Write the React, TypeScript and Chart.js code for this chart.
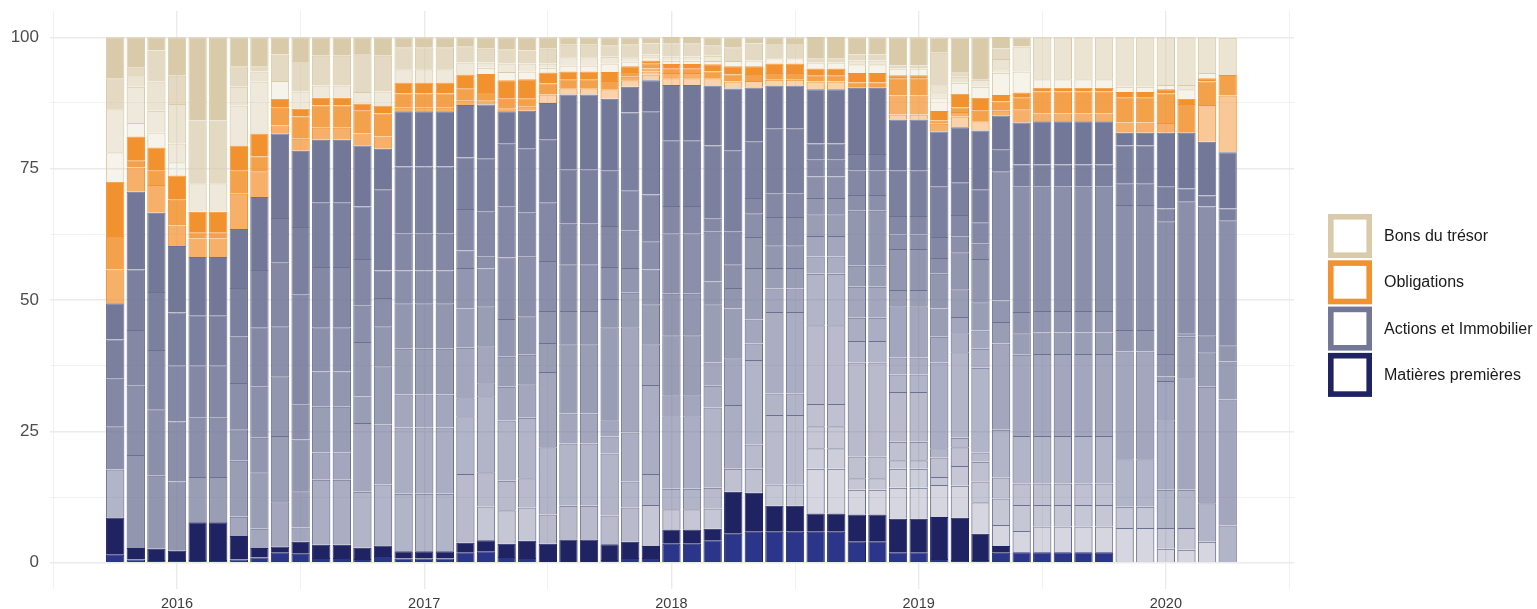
import React, { useEffect, useRef } from 'react';
import { Chart, registerables } from 'chart.js';

Chart.register(...registerables);

// ---------- DATA ----------
const months = [
  '2015-10', '2015-11', '2015-12',
  '2016-01', '2016-02', '2016-03', '2016-04', '2016-05', '2016-06', '2016-07', '2016-08', '2016-09', '2016-10', '2016-11', '2016-12',
  '2017-01', '2017-02', '2017-03', '2017-04', '2017-05', '2017-06', '2017-07', '2017-08', '2017-09', '2017-10', '2017-11', '2017-12',
  '2018-01', '2018-02', '2018-03', '2018-04', '2018-05', '2018-06', '2018-07', '2018-08', '2018-09', '2018-10', '2018-11', '2018-12',
  '2019-01', '2019-02', '2019-03', '2019-04', '2019-05', '2019-06', '2019-07', '2019-08', '2019-09', '2019-10', '2019-11', '2019-12',
  '2020-01', '2020-02', '2020-03', '2020-04',
];

const categories = ['Bons du trésor', 'Obligations', 'Actions et Immobilier', 'Matières premières'];
const yTickValues = [0, 12.5, 25, 37.5, 50, 62.5, 75, 87.5, 100];
const yearTickValues = [-6, 0, 6, 12, 18, 24, 30, 36, 42, 48, 54];

// Matières premières: 2 assets per month (%)
const matieres = [
  [1.5, 7.1], [0.6, 2.2], [0.5, 2.15],
  [0.5, 1.8], [0.5, 7.2], [0.5, 7.2], [0.6, 4.5], [1.0, 1.8], [2.0, 1.1], [1.7, 2.3], [0.9, 2.5], [0.9, 2.5], [0.7, 2.15], [1.3, 2.0], [0.8, 1.4],
  [0.8, 1.4], [0.8, 1.4], [2.0, 1.8], [2.2, 2.1], [1.1, 2.5], [0.9, 3.3], [0, 3.6], [0, 4.4], [0, 4.4], [0.5, 3.0], [0.9, 3.1], [0.9, 2.3],
  [3.6, 2.7], [3.6, 2.7], [4.3, 2.15], [5.5, 8.0], [5.9, 7.4], [5.9, 4.95], [5.9, 4.95], [5.9, 3.45], [5.9, 3.45], [4.1, 5.1], [4.1, 5.1], [2.0, 6.35],
  [2.0, 6.35], [0.7, 8.0], [0.5, 8.05], [0.5, 5.0], [1.9, 1.3], [2.0, 0], [2.0, 0], [2.0, 0], [2.0, 0], [2.0, 0], [0, 0], [0, 0],
  [0, 0], [0, 0], [0, 0], [0, 0],
];

// Actions et Immobilier: 14 assets per month, bottom to top (%)
const actions = [
  [0, 0, 0, 0, 0, 9.15, 0, 0, 0, 0, 8.2, 9.05, 7.5, 6.9],
  [0, 0, 0, 0, 0, 0, 0, 0, 0, 17.7, 13.2, 10.6, 11.5, 14.8],
  [0, 0, 0, 0, 0, 0, 0, 0, 0, 13.9, 12.65, 11.3, 11.0, 15.1],
  [0, 0, 0, 0, 0, 0, 0, 0, 0, 13.15, 11.45, 10.7, 10.0, 12.7],
  [0, 0, 0, 0, 0, 0, 0, 0, 8.6, 0, 11.3, 10.0, 9.5, 11.1],
  [0, 0, 0, 0, 0, 0, 0, 0, 8.6, 0, 11.3, 10.0, 9.5, 11.1],
  [0, 0, 0, 0, 0, 0, 0, 3.65, 10.65, 6.0, 8.8, 8.8, 9.3, 11.2],
  [0, 0, 0, 0, 0, 0, 0, 3.66, 10.74, 6.6, 9.7, 11.3, 10.9, 13.9],
  [0, 0, 0, 0, 0, 0, 0, 8.4, 12.6, 11.4, 9.5, 12.1, 8.5, 16.1],
  [0, 0, 0, 0, 0, 0, 0, 2.7, 6.9, 9.85, 6.63, 20.92, 12.9, 14.5],
  [0, 0, 0, 0, 0, 0, 12.4, 5.2, 8.7, 6.7, 8.4, 11.5, 12.2, 12.0],
  [0, 0, 0, 0, 0, 0, 12.4, 5.2, 8.7, 6.7, 8.4, 11.5, 12.2, 12.0],
  [0, 0, 0, 0, 0, 10.65, 0, 13.1, 5.05, 10.35, 6.9, 8.9, 10.0, 11.6],
  [0, 0, 0, 0, 0, 11.6, 0, 11.4, 11.1, 7.6, 5.4, 5.2, 15.5, 7.7],
  [0, 0, 0, 0, 0, 10.95, 12.6, 6.25, 8.7, 8.7, 6.2, 7.0, 12.8, 10.5],
  [0, 0, 0, 0, 0, 10.95, 12.6, 6.25, 8.7, 8.7, 6.2, 7.0, 12.8, 10.5],
  [0, 0, 0, 0, 0, 10.95, 12.6, 6.25, 8.7, 8.7, 6.2, 7.0, 12.8, 10.5],
  [0, 0, 0, 0, 13.1, 11.0, 3.4, 9.6, 7.5, 7.7, 3.3, 7.9, 9.8, 10.0],
  [0, 0, 6.4, 0, 6.5, 14.5, 2.45, 7.05, 7.6, 7.2, 2.25, 8.55, 10.2, 10.2],
  [0, 0, 6.4, 0, 5.6, 11.45, 0, 6.45, 5.7, 7.2, 11.7, 9.65, 12.0, 6.15],
  [0, 0, 6.3, 0, 5.6, 11.5, 0, 6.35, 5.65, 7.3, 11.35, 8.35, 12.2, 7.2],
  [0, 0, 0, 0, 5.6, 12.8, 0, 14.3, 5.5, 6.1, 9.5, 11.2, 11.9, 7.0],
  [0, 0, 0, 0, 6.45, 11.85, 0, 5.7, 13.2, 6.3, 8.9, 7.7, 10.3, 14.3],
  [0, 0, 0, 0, 6.45, 11.85, 0, 5.7, 13.2, 6.3, 8.9, 7.7, 10.3, 14.3],
  [0, 0, 0, 0, 5.5, 11.8, 3.2, 3.1, 17.7, 5.4, 6.1, 7.8, 10.5, 13.7],
  [0, 0, 0, 0, 6.5, 4.95, 9.35, 20.0, 6.6, 4.7, 7.1, 7.7, 14.8, 4.9],
  [0, 0, 7.8, 0, 0, 5.9, 16.9, 7.8, 7.6, 6.6, 5.4, 8.9, 15.8, 5.9],
  [0, 0, 3.9, 0, 0, 3.9, 13.8, 3.95, 11.45, 7.9, 11.5, 5.2, 12.5, 10.5],
  [0, 0, 3.9, 0, 0, 3.9, 13.8, 3.95, 11.45, 7.9, 11.5, 5.2, 12.5, 10.5],
  [0, 0, 3.85, 0, 3.97, 15.28, 4.15, 4.4, 11.1, 4.3, 9.5, 2.45, 13.95, 11.4],
  [0, 0, 0, 4.4, 0, 0, 12.1, 8.9, 9.5, 3.9, 4.5, 6.2, 15.4, 11.85],
  [0, 0, 0, 4.6, 4.6, 16.1, 3.1, 4.6, 9.8, 5.9, 4.5, 2.9, 10.7, 10.35],
  [0, 0, 4.05, 0, 13.2, 4.1, 15.5, 4.5, 3.9, 4.3, 5.4, 4.4, 12.4, 8.2],
  [0, 0, 4.05, 0, 13.2, 4.1, 15.5, 4.5, 3.9, 4.3, 5.4, 4.4, 12.4, 8.2],
  [8.55, 3.9, 4.15, 4.25, 15.0, 9.8, 3.3, 3.9, 4.1, 3.1, 4.1, 3.17, 3.09, 10.34],
  [8.55, 3.9, 4.15, 4.25, 15.0, 9.8, 3.3, 3.9, 4.1, 3.1, 4.1, 3.17, 3.09, 10.34],
  [4.7, 0, 2.2, 4.1, 17.9, 4.1, 4.4, 5.9, 4.0, 10.5, 3.0, 4.6, 3.2, 12.6],
  [4.7, 0, 2.2, 4.1, 17.9, 4.1, 4.4, 5.9, 4.0, 10.5, 3.0, 4.6, 3.2, 12.6],
  [5.92, 3.63, 1.6, 3.5, 9.5, 3.3, 3.27, 9.73, 3.1, 7.8, 2.7, 3.6, 8.6, 9.75],
  [5.92, 3.63, 1.6, 3.5, 9.5, 3.3, 3.27, 9.73, 3.1, 7.8, 2.7, 3.6, 8.6, 9.75],
  [6.1, 0, 1.5, 3.74, 0, 1.76, 16.3, 4.9, 5.4, 6.6, 3.0, 4.0, 9.55, 10.5],
  [6.11, 0, 3.74, 3.6, 1.8, 16.25, 3.61, 3.09, 5.31, 7.04, 2.94, 4.16, 6.2, 10.5],
  [6.0, 0, 3.95, 3.75, 1.8, 16.1, 3.6, 3.5, 5.37, 8.23, 2.9, 4.1, 6.3, 11.15],
  [4.0, 0, 5.0, 4.0, 0, 9.1, 0, 16.4, 4.1, 4.1, 24.6, 0, 4.1, 6.5],
  [4.06, 0, 4.94, 4.1, 0, 9.0, 0, 15.5, 4.06, 4.04, 23.85, 0, 4.25, 8.0],
  [4.9, 0, 4.1, 4.1, 0, 9.0, 0, 15.6, 4.1, 4.1, 23.65, 0, 4.25, 8.2],
  [4.9, 0, 4.1, 4.1, 0, 9.0, 0, 15.6, 4.1, 4.1, 23.65, 0, 4.25, 8.2],
  [4.9, 0, 4.1, 4.1, 0, 9.0, 0, 15.6, 4.1, 4.1, 23.65, 0, 4.25, 8.2],
  [4.9, 0, 4.1, 4.1, 0, 9.0, 0, 15.6, 4.1, 4.1, 23.65, 0, 4.25, 8.2],
  [6.6, 0, 4.05, 0, 0, 9.05, 0, 20.5, 0, 4.1, 23.77, 4.13, 7.2, 2.45],
  [6.6, 0, 4.05, 0, 0, 9.05, 0, 20.5, 0, 4.1, 23.77, 4.13, 7.2, 2.45],
  [2.65, 0, 3.95, 0, 0, 7.3, 13.2, 7.5, 0.86, 4.24, 25.3, 2.4, 4.15, 10.3],
  [2.45, 0, 4.15, 0, 0, 7.3, 0, 21.2, 7.9, 0.66, 25.14, 0, 2.4, 10.65],
  [3.97, 0, 0, 0, 0, 7.33, 0, 22.2, 6.55, 3.25, 24.5, 0, 2.1, 10.2],
  [0, 0, 0, 0, 0, 7.1, 0, 23.96, 7.24, 3.07, 23.83, 0, 2.2, 10.7],
];

// Obligations: 5 assets per month, bottom to top (%)
const obligations = [
  [0, 0, 6.4, 6.4, 10.3], [0, 0, 4.6, 1.4, 4.5], [0, 0, 5.3, 2.7, 4.4],
  [0, 0, 3.9, 4.9, 4.6], [0, 0, 3.5, 1.2, 3.9], [0, 0, 3.5, 1.2, 3.9], [0, 0, 6.7, 4.4, 4.8], [0, 0, 4.9, 2.8, 4.4], [0, 0, 1.5, 3.4, 1.7],
  [0, 0, 2.3, 4.2, 1.5], [0, 0, 2.3, 4.2, 1.5], [0, 0, 2.3, 4.2, 1.5], [0, 0, 2.3, 4.3, 1.4], [0, 0, 2.3, 4.4, 1.5], [0, 0, 0.7, 2.7, 2.1],
  [0, 0, 0.7, 2.7, 2.1], [0, 0, 0.7, 2.7, 2.1], [0, 0, 0.8, 2.4, 2.6], [0, 0, 0.8, 1.6, 3.4], [0, 0, 0.6, 1.8, 3.5], [0, 0, 0.8, 1.6, 3.6],
  [1.6, 0, 0, 2.1, 2.1], [1.2, 0, 0, 1.7, 1.5], [1.2, 0, 0, 1.7, 1.5], [1.8, 0, 0, 1.6, 1.7], [1.2, 0, 0.7, 0.9, 1.1], [1.1, 0.6, 0.55, 1.0, 0.55],
  [1.3, 0, 1.0, 0.9, 0.8], [1.3, 0, 1.0, 0.9, 0.8], [1.4, 0, 0, 1.3, 1.35], [1.35, 0, 0, 1.3, 1.6], [1.25, 0, 0, 1.3, 1.5], [1.1, 0, 0, 1.3, 1.8],
  [1.1, 0, 0, 1.3, 1.8], [1.5, 0, 0, 1.15, 1.3], [1.5, 0, 0, 1.15, 1.3], [0, 0, 0, 1.0, 1.8], [0, 0, 0, 1.0, 1.8], [0.95, 0, 3.6, 3.3, 0.55],
  [0.95, 0, 3.6, 3.3, 0.55], [0, 0, 1.5, 0.6, 1.8], [2.0, 0, 0.9, 0.85, 2.6], [1.75, 0, 0, 2.0, 2.5], [0, 0, 0.9, 1.8, 1.2], [0, 0, 2.5, 2.3, 0.9],
  [0, 0, 1.5, 4.2, 0.7], [0, 0, 1.5, 4.2, 0.7], [0, 0, 1.5, 4.2, 0.7], [0, 0, 1.5, 4.2, 0.7], [0, 0, 1.95, 4.8, 1.0], [0, 0, 1.95, 4.8, 1.0],
  [0, 0, 1.85, 5.6, 0.8], [0, 0, 0, 5.45, 1.0], [0, 7.0, 0, 4.5, 0.6], [0, 10.8, 0, 3.9, 0],
];

// Bons du trésor: 5 assets per month, bottom to top (%)
const bons = [
  [5.6, 8.2, 0, 5.9, 7.8], [2.6, 6.9, 2.0, 1.6, 5.8], [2.9, 4.1, 5.6, 5.9, 2.5],
  [2.5, 3.6, 7.5, 5.4, 7.3], [0, 5.4, 0, 11.95, 15.85], [0, 5.4, 0, 11.95, 15.85], [0, 7.6, 3.6, 3.9, 5.5], [0, 9.9, 1.9, 1.0, 5.5], [3.4, 0, 0, 5.0, 3.3],
  [0, 3.3, 0, 5.8, 4.5], [0, 2.3, 0, 5.7, 3.5], [0, 2.3, 0, 5.7, 3.5], [0, 2.2, 0, 7.4, 3.0], [0, 2.7, 0, 6.8, 3.5], [0, 2.5, 0, 4.2, 1.9],
  [0, 2.5, 0, 4.2, 1.9], [0, 2.5, 0, 4.2, 1.9], [0, 2.3, 0, 3.1, 1.7], [1.2, 1.0, 0, 2.6, 2.2], [1.6, 1.6, 0, 2.7, 2.3], [1.5, 1.5, 0, 2.5, 2.5],
  [0.9, 0.8, 0, 2.8, 2.2], [1.15, 1.55, 0, 2.4, 1.4], [1.15, 1.55, 0, 2.4, 1.4], [1.6, 1.3, 0, 2.2, 1.5], [0.9, 0.8, 0, 2.45, 1.35], [0.6, 0.5, 0, 2.1, 1.2],
  [0.65, 0.8, 0, 2.5, 1.2], [0.65, 0.8, 0, 2.5, 1.2], [0.65, 1.0, 0, 2.0, 1.5], [1.0, 0, 0, 2.6, 1.9], [1.1, 0, 0, 3.2, 1.2], [1.0, 0, 0, 2.9, 1.1],
  [1.0, 0, 0, 2.9, 1.1], [1.15, 0, 0, 0.8, 4.05], [1.15, 0, 0, 0.8, 4.05], [1.65, 0.75, 0, 1.1, 3.3], [1.65, 0.75, 0, 1.1, 3.3], [1.3, 0, 0, 0.6, 5.35],
  [1.3, 0, 0, 0.6, 5.35], [2.6, 1.0, 1.3, 6.2, 2.9], [2.1, 0, 1.15, 0.85, 6.6], [2.1, 1.3, 0, 0, 8.1], [4.25, 0.85, 1.75, 2.0, 2.2], [4.0, 4.75, 0, 0, 1.75],
  [1.6, 0, 8.0, 0, 0], [1.6, 0, 8.0, 0, 0], [1.6, 0, 8.0, 0, 0], [1.6, 0, 8.0, 0, 0], [1.0, 0, 9.4, 0, 0], [1.0, 0, 9.4, 0, 0],
  [0.8, 0, 9.1, 0, 0], [1.8, 0.8, 9.1, 0, 0], [1.0, 0, 6.8, 0, 0], [0, 0, 7.1, 0, 0],
];

// ---------- STYLE ----------
const FONT = "'Liberation Sans', Arial, Helvetica, sans-serif";
const NAVY = [31, 35, 97];
const BLUE = [43, 53, 137];
const SLATE = [115, 120, 153];
const ORANGE = [242, 146, 47];
const BEIGE = [217, 203, 169];
const ACT_ALPHA = [0.3, 0.36, 0.41, 0.46, 0.5, 0.55, 0.6, 0.66, 0.72, 0.78, 0.83, 0.88, 0.94, 1];
const OBL_ALPHA = [0.4, 0.5, 0.72, 0.86, 1];
const BON_ALPHA = [0.24, 0.42, 0.52, 0.7, 1];
const GRID = '#ebebeb';

const rgba = (c: number[], a: number) => `rgba(${c[0]},${c[1]},${c[2]},${a})`;
const monthIndex = (s: string) => {
  const [y, m] = s.split('-').map(Number);
  return (y - 2016) * 12 + (m - 1);
};

const legendPlugin = {
  id: 'categoryLegend',
  afterDraw(chart: any) {
    const ctx = chart.ctx;
    const colors = [BEIGE, ORANGE, SLATE, NAVY];
    const x0 = chart.chartArea.right + 34;
    const size = 44;
    const pitch = 46.3;
    const top = 214;
    const lw = 5.6;
    ctx.save();
    categories.forEach((label, k) => {
      const y = top + k * pitch;
      ctx.fillStyle = '#ffffff';
      ctx.fillRect(x0, y, size, size);
      ctx.strokeStyle = rgba(colors[k], 1);
      ctx.lineWidth = lw;
      ctx.strokeRect(x0 + lw / 2, y + lw / 2, size - lw, size - lw);
      ctx.fillStyle = '#1a1a1a';
      ctx.font = `16px ${FONT}`;
      ctx.textAlign = 'left';
      ctx.textBaseline = 'middle';
      ctx.fillText(label, x0 + 56, y + size / 2 + 0.5);
    });
    ctx.restore();
  },
};

export default function App() {
  const ref = useRef<HTMLCanvasElement>(null);

  useEffect(() => {
    const xs = months.map(monthIndex);
    const datasets: any[] = [];
    const add = (values: number[], fill: string, border: string) => {
      datasets.push({
        data: xs.map((x, i) => ({ x, y: values[i] })),
        backgroundColor: fill,
        borderColor: border,
        borderWidth: 1,
        barPercentage: 0.89,
        categoryPercentage: 1,
      });
    };

    add(matieres.map((r) => r[0]), rgba(BLUE, 1), rgba(NAVY, 1));
    add(matieres.map((r) => r[1]), rgba(NAVY, 1), rgba(NAVY, 1));
    ACT_ALPHA.forEach((a, j) => add(actions.map((r) => r[j]), rgba(SLATE, a), 'rgb(108,113,146)'));
    OBL_ALPHA.forEach((a, j) => add(obligations.map((r) => r[j]), rgba(ORANGE, a), rgba(ORANGE, 1)));
    BON_ALPHA.forEach((a, j) => add(bons.map((r) => r[j]), rgba(BEIGE, a), rgba(BEIGE, 1)));

    const chart = new Chart(ref.current as HTMLCanvasElement, {
      type: 'bar',
      data: { datasets },
      plugins: [legendPlugin],
      options: {
        animation: false,
        responsive: true,
        maintainAspectRatio: false,
        layout: { padding: { top: 11, right: 243, bottom: 0, left: 0 } },
        plugins: { legend: { display: false }, tooltip: { enabled: false } },
        scales: {
          x: {
            type: 'linear',
            stacked: true,
            offset: false,
            min: -6.165,
            max: 54.22,
            afterBuildTicks: (s: any) => {
              s.ticks = yearTickValues.map((value) => ({ value }));
            },
            afterFit: (s: any) => {
              s.height = 20;
              s.paddingLeft = 0;
              s.paddingRight = 0;
            },
            grid: {
              offset: false,
              color: GRID,
              lineWidth: (c: any) => (c.tick && c.tick.value % 12 === 0 ? 1.4 : 0.7),
              drawTicks: false,
            },
            border: { display: false },
            ticks: {
              autoSkip: false,
              maxRotation: 0,
              padding: 6,
              color: '#3d3d3d',
              font: { family: FONT, size: 14.5 },
              callback: (v: any) => (Number(v) % 12 === 0 ? String(2016 + Number(v) / 12) : ''),
            },
          },
          y: {
            stacked: true,
            min: -5,
            max: 105,
            afterBuildTicks: (s: any) => {
              s.ticks = yTickValues.map((value) => ({ value }));
            },
            afterFit: (s: any) => {
              s.width = 50;
              s.paddingTop = 0;
              s.paddingBottom = 0;
            },
            grid: {
              color: GRID,
              lineWidth: (c: any) => (c.tick && c.tick.value % 25 === 0 ? 1.4 : 0.7),
              drawTicks: false,
            },
            border: { display: false },
            ticks: {
              padding: 11,
              color: '#4d4d4d',
              font: { family: FONT, size: 17 },
              callback: (v: any) => (Number(v) % 25 === 0 ? String(v) : ''),
            },
          },
        },
      } as any,
    });
    return () => chart.destroy();
  }, []);

  return (
    <div style={{ position: 'fixed', left: 0, top: 0, width: 1537, height: 609, background: '#ffffff' }}>
      <canvas ref={ref} />
    </div>
  );
}
